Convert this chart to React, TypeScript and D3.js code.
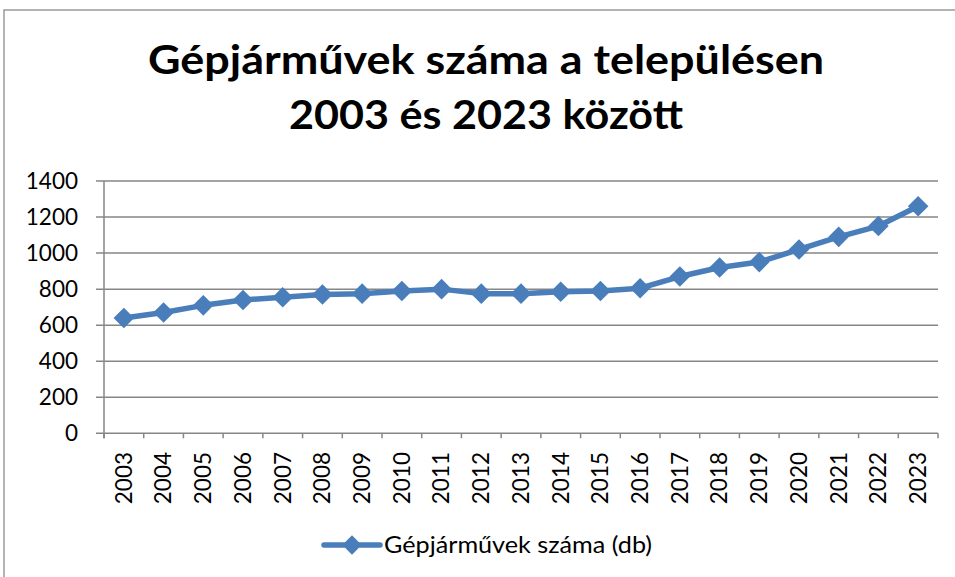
import React from "react";
import * as d3 from "d3";

const years = ["2003","2004","2005","2006","2007","2008","2009","2010","2011","2012","2013","2014","2015","2016","2017","2018","2019","2020","2021","2022","2023"];
const values = [640, 670, 710, 740, 755, 770, 775, 790, 800, 775, 775, 785, 790, 805, 870, 920, 950, 1020, 1090, 1150, 1260];
const yTicks = [0, 200, 400, 600, 800, 1000, 1200, 1400];
const titleLines = ["Gépjárművek száma a településen", "2003 és 2023 között"];
const titleWidths = [676, 394];
const seriesName = "Gépjárművek száma (db)";

const W = 955, H = 577;
const left = 104, right = 938, top = 181, bottom = 433.3;
const blue = "#4a7ebb";
const grid = "#868686";
const font = "Lato, 'Liberation Sans', sans-serif";

export default function App() {
  const x = d3.scaleBand<string>().domain(years).range([left, right]).padding(0);
  const y = d3.scaleLinear().domain([0, 1400]).range([bottom, top]);
  const cx = (d: string) => (x(d) as number) + x.bandwidth() / 2;
  const line = d3.line<number>().x((_, i) => cx(years[i])).y((v) => y(v));
  const diamond = d3.symbol().type(d3.symbolDiamond2).size(270)() as string;
  const legendDiamond = d3.symbol().type(d3.symbolDiamond2).size(240)() as string;
  const boundaries = years.map((_, i) => left + i * x.bandwidth()).concat([right]);

  return (
    <svg width={W} height={H} style={{ position: "absolute", left: 0, top: 0, background: "#fff" }}>
      <rect x={4} y={10} width={1000} height={700} fill="#fff" stroke="#8c8c8c" strokeWidth={1.3} />
      {titleLines.map((t, i) => (
        <text key={i} x={486} y={74 + i * 55} textAnchor="middle" fontFamily={font} fontWeight="bold" fontSize={41}
          textLength={titleWidths[i]} lengthAdjust="spacingAndGlyphs" fill="#000">{t}</text>
      ))}
      {yTicks.map((t) => (
        <g key={t}>
          <line x1={96} x2={right} y1={y(t)} y2={y(t)} stroke={grid} strokeWidth={1.5} />
          <text x={78} y={y(t)} dy="0.35em" textAnchor="end" fontFamily={font} fontSize={22.5} fill="#000">{t}</text>
        </g>
      ))}
      <line x1={left} x2={left} y1={top} y2={bottom + 5} stroke={grid} strokeWidth={1.5} />
      {boundaries.map((b, i) => (
        <line key={i} x1={b} x2={b} y1={bottom} y2={bottom + 5} stroke={grid} strokeWidth={1.5} />
      ))}
      {years.map((yr) => (
        <text key={yr} transform={`translate(${cx(yr)},452) rotate(-90)`} dy="0.35em" textAnchor="end" fontFamily={font} fontSize={22.5} fill="#000">{yr}</text>
      ))}
      <path d={line(values) as string} fill="none" stroke={blue} strokeWidth={5.5} strokeLinejoin="round" strokeLinecap="round" />
      {values.map((v, i) => (
        <path key={i} d={diamond} transform={`translate(${cx(years[i])},${y(v)})`} fill={blue} />
      ))}
      <line x1={324} x2={380} y1={545} y2={545} stroke={blue} strokeWidth={5.5} strokeLinecap="round" />
      <path d={legendDiamond} transform="translate(352,545)" fill={blue} />
      <text x={384} y={553} fontFamily={font} fontSize={23} textLength={268} lengthAdjust="spacingAndGlyphs" fill="#000">{seriesName}</text>
    </svg>
  );
}
